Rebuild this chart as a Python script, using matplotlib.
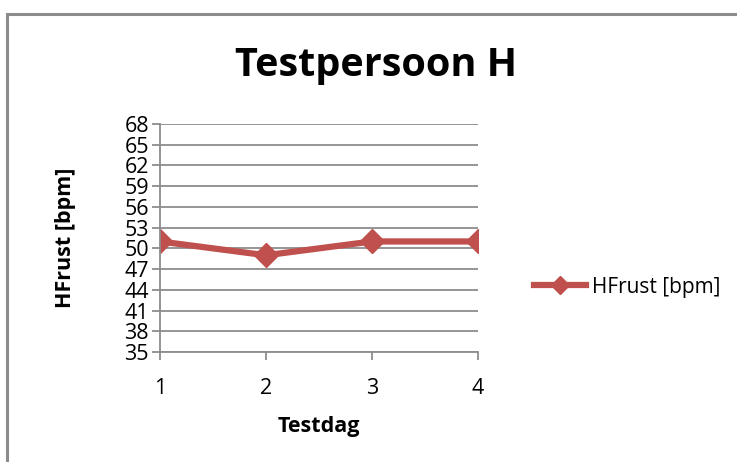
import matplotlib.pyplot as plt
from matplotlib.patches import Rectangle

days = [1, 2, 3, 4]
hf_rust = [51, 49, 51, 51]
y_ticks = [35, 38, 41, 44, 47, 50, 53, 56, 59, 62, 65, 68]

plt.rcParams['font.family'] = ['Open Sans', 'DejaVu Sans']

fig = plt.figure(figsize=(7.37, 4.62), dpi=100)
ax = fig.add_axes([160/737, 1 - 352/462, (478 - 160)/737, (352 - 124)/462])

# outer chart frame (only top and left edges inside the picture)
fig.patches.append(Rectangle((7/737, -0.1), 1.2, (462 - 14)/462 + 0.1,
                             transform=fig.transFigure, fill=False,
                             edgecolor='#8c8c8c', linewidth=2.2))

ax.plot(days, hf_rust, color='#C0504D', linewidth=4.5, marker='D', markersize=12,
        label='HFrust [bpm]')

ax.set_ylim(35, 68)
ax.set_xlim(1, 4)
ax.set_yticks(y_ticks)
ax.set_xticks(days)
ax.grid(axis='y', color='#8c8c8c', linewidth=1.3)
ax.set_axisbelow(True)
for s in ['top', 'right']:
    ax.spines[s].set_visible(False)
for s in ['left', 'bottom']:
    ax.spines[s].set_color('#8c8c8c')
    ax.spines[s].set_linewidth(1.3)
ax.tick_params(axis='both', color='#8c8c8c', width=1.3, length=6, labelsize=15.5)
ax.tick_params(axis='y', pad=2)
ax.tick_params(axis='x', pad=13)

fig.text(376/737, 1 - 65/462, 'Testpersoon H', ha='center', va='center',
         fontsize=28.5, fontweight='bold')
ax.set_xlabel('Testdag', fontsize=15.5, fontweight='bold', labelpad=12)
ax.set_ylabel('HFrust [bpm]', fontsize=15.5, fontweight='bold', labelpad=35)

ax.legend(loc='center left', bbox_to_anchor=(515/737, 1 - 287/462),
          bbox_transform=fig.transFigure, frameon=False, fontsize=15,
          handlelength=2.5, handletextpad=0.3, markerscale=0.75)
ax.patch.set_visible(False)

fig.savefig('out.png', dpi=100)
